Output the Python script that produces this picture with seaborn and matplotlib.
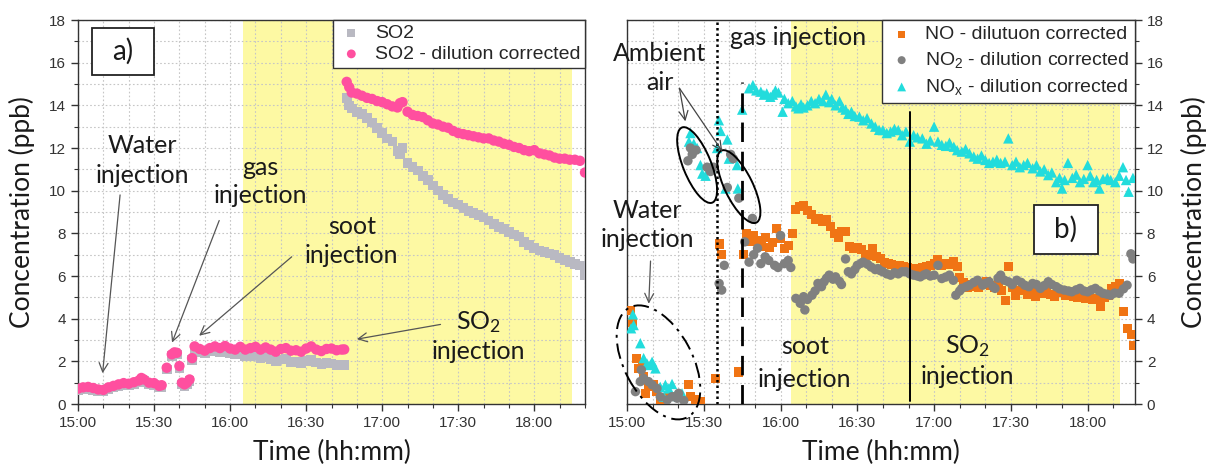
import matplotlib
matplotlib.use("Agg")
import matplotlib.pyplot as plt
import matplotlib.ticker as mticker
import matplotlib.transforms as mtransforms
from matplotlib.patches import Ellipse, Rectangle
import pandas as pd
import seaborn as sns

# ---------------------------------------------------------------- data
# time axis: minutes after 15:00
x_tick_minutes = [0, 30, 60, 90, 120, 150, 180]
x_tick_labels = ["15:00", "15:30", "16:00", "16:30", "17:00", "17:30", "18:00"]

# panel a) SO2 (ppb)
so2_minutes = [0, 2, 4, 6, 8, 10, 12, 14, 16, 18, 20, 22, 24, 25, 26, 28, 30, 32, 33, 35,
               37, 38, 39, 40, 41, 42, 43, 44, 45, 46, 48, 50, 52, 54, 56, 58, 60, 62, 64, 66,
               68, 70, 72, 74, 76, 78, 80, 82, 84, 86, 88, 90, 92, 94, 96, 98, 100, 102, 104, 105,
               106, 107, 108, 110, 112, 114, 116, 118, 120, 122, 124, 126, 127, 128,
               130, 132, 134, 136, 138, 140, 142, 144, 146, 148, 150, 152, 154, 156, 158, 160,
               162, 164, 166, 168, 170, 172, 174, 176, 178, 180, 182, 184, 186, 188, 190, 192,
               194, 196, 198, 200]
so2_raw = [0.64, 0.70, 0.72, 0.67, 0.60, 0.58, 0.70, 0.77, 0.84, 0.90, 0.87, 0.94, 1.02, 1.14, 1.07, 0.92, 0.90, 0.77, 0.80, 1.62,
           2.25, 2.34, 2.32, 1.70, 0.92, 0.84, 0.92, 1.07, 2.05, 2.58, 2.45, 2.40, 2.48, 2.52, 2.45, 2.50, 2.40, 2.32, 2.38, 2.25,
           2.25, 2.28, 2.15, 2.20, 2.10, 2.00, 2.08, 2.10, 1.98, 1.98, 1.92, 2.02, 2.08, 1.95, 1.88, 1.92, 1.90, 1.82, 1.85, 1.84,
           14.35, 14.00, 13.85, 13.70, 13.60, 13.40, 13.20, 12.95, 12.70, 12.45, 12.30, 11.85, 11.70, 12.00,
           11.30, 11.10, 10.95, 10.70, 10.50, 10.25, 10.00, 9.80, 9.60, 9.45, 9.35, 9.20, 9.05, 8.95, 8.85, 8.75,
           8.60, 8.45, 8.30, 8.20, 8.05, 7.95, 7.85, 7.60, 7.45, 7.30, 7.20, 7.12, 7.05, 6.98, 6.85, 6.75,
           6.65, 6.55, 6.50, 6.05]
so2_corrected = [0.72, 0.78, 0.80, 0.75, 0.68, 0.66, 0.78, 0.85, 0.92, 0.98, 0.95, 1.02, 1.10, 1.22, 1.15, 1.00, 0.98, 0.85, 0.88, 1.70,
                 2.33, 2.42, 2.40, 1.78, 1.00, 0.92, 1.00, 1.15, 2.15, 2.70, 2.58, 2.50, 2.62, 2.70, 2.62, 2.72, 2.60, 2.55, 2.68, 2.55,
                 2.62, 2.68, 2.55, 2.65, 2.55, 2.45, 2.58, 2.62, 2.50, 2.52, 2.45, 2.60, 2.70, 2.55, 2.48, 2.58, 2.60, 2.52, 2.55, 2.56,
                 15.10, 14.85, 14.60, 14.55, 14.45, 14.35, 14.30, 14.20, 14.15, 14.05, 13.95, 13.90, 14.10, 14.15,
                 13.70, 13.55, 13.50, 13.45, 13.30, 13.15, 13.10, 13.00, 12.95, 12.80, 12.70, 12.65, 12.60, 12.55, 12.50, 12.45,
                 12.45, 12.35, 12.30, 12.20, 12.15, 12.05, 12.00, 11.90, 11.85, 11.90, 11.75, 11.70, 11.65, 11.55, 11.50, 11.50,
                 11.45, 11.45, 11.40, 10.85]

# panel b) nitrogen oxides (ppb)
no_minutes = [1.3, 2.0, 3.9, 4.6, 5.9, 6.5, 7.2, 8.5, 10.4, 11.7, 13.0, 16.3, 19.6, 24.2, 24.8, 26.8, 28.7, 34.6, 36.0, 37.0,
              43.7, 45.4, 46.5, 48.0, 49.5, 51.0, 52.5, 54.0, 55.5, 57.0, 58.5, 60.0, 61.5, 63.0, 64.5, 66.0, 67.5, 69.0, 70.5, 72.0,
              73.5, 75.0, 76.5, 78.0, 79.5, 81.0, 82.5, 84.0, 85.5, 87.0, 88.5, 90.0, 91.5, 93.0, 94.5, 96.0, 97.5, 99.0, 100.5, 102.0,
              103.5, 105.0, 106.5, 108.0, 109.5, 111.0, 112.5, 114.0, 115.5, 117.0, 118.5, 120.0, 121.5, 123.0, 124.5, 126.0, 127.5, 129.0, 130.0, 131.5,
              133.0, 134.5, 136.0, 137.5, 139.0, 140.5, 142.0, 143.5, 145.0, 146.5, 148.0, 149.0, 150.5, 152.0, 153.5, 155.0, 156.5, 158.0, 159.5, 161.0,
              162.5, 164.0, 165.5, 167.0, 168.5, 170.0, 171.5, 173.0, 174.5, 176.0, 177.5, 179.0, 180.5, 182.0, 183.5, 185.0, 186.5, 188.0, 189.5, 191.0,
              192.5, 194.0, 195.5, 197.0, 198.0]
no_values = [4.40, 3.80, 2.15, 1.67, 1.83, 1.28, 0.50, 0.81, 0.90, 0.58, 0.19, 0.34, 0.34, 0.90, 0.34, 0.22, 0.10, 1.20, 7.50, 7.00,
             1.50, 7.00, 8.00, 7.60, 7.90, 7.66, 7.40, 7.80, 7.35, 7.58, 8.24, 7.75, 7.30, 7.45, 8.00, 9.10, 9.25, 9.30, 9.05, 8.90,
             8.65, 8.70, 8.55, 8.65, 8.30, 8.00, 7.80, 8.10, 8.10, 7.40, 7.30, 7.35, 7.25, 7.00, 6.95, 7.30, 6.90, 6.80, 6.65, 6.60,
             6.55, 6.50, 6.50, 6.45, 6.40, 6.35, 6.35, 6.30, 6.40, 6.45, 6.50, 6.60, 6.75, 6.50, 6.60, 6.55, 6.70, 6.45, 5.95, 5.70,
             5.45, 5.60, 5.50, 5.45, 5.60, 5.75, 5.55, 5.45, 5.60, 5.30, 4.85, 6.45, 5.45, 5.10, 5.30, 5.35, 5.15, 5.30, 5.05, 5.35,
             5.20, 5.30, 5.15, 5.05, 5.25, 5.30, 5.10, 5.20, 5.05, 5.00, 5.10, 4.95, 5.00, 4.90, 4.95, 4.55, 5.00, 5.10, 5.40, 5.50,
             5.65, 4.35, 3.55, 3.25, 2.75]

no2_minutes = [3.3, 5.2, 5.6, 6.5, 8.4, 9.8, 11.7, 13.0, 15.7, 17.6, 19.6, 20.2, 22.2, 23.8, 24.8, 25.5, 27.0, 31.3, 32.6, 33.8,
               36.0, 37.0, 38.0, 39.2, 40.5, 41.5, 43.7, 46.0, 47.7, 49.0, 49.5, 51.0, 52.3, 54.0, 55.4, 57.7, 59.0, 60.0, 61.5, 63.0,
               64.0, 66.0, 67.7, 69.0, 69.5, 70.5, 72.3, 73.5, 74.6, 76.0, 77.0, 78.0, 79.0, 80.5, 81.5, 83.0, 83.8, 85.4, 86.5, 87.7,
               89.0, 90.0, 91.5, 92.3, 94.0, 95.4, 97.0, 98.0, 99.0, 100.0, 101.5, 103.0, 104.5, 106.0, 107.5, 109.0, 110.5, 112.0, 113.5, 114.6,
               116.0, 117.0, 118.5, 120.0, 121.5, 123.0, 124.5, 126.0, 127.5, 128.5, 130.0, 130.8, 132.5, 133.8, 135.5, 137.0, 139.0, 140.0, 141.5, 143.0,
               143.8, 145.0, 146.0, 147.5, 149.0, 150.5, 152.3, 154.0, 155.4, 157.0, 158.5, 160.0, 161.5, 163.0, 164.6, 166.0, 167.7, 169.0, 170.8, 172.5,
               173.8, 175.5, 177.0, 178.5, 180.0, 181.5, 183.0, 184.5, 186.0, 187.5, 189.0, 190.5, 192.3, 194.0, 195.4, 196.9, 197.7]
no2_values = [0.58, 1.05, 1.60, 1.20, 1.05, 0.90, 0.73, 0.34, 0.19, 0.34, 0.27, 0.50, 0.16, 11.40, 12.00, 11.70, 11.90, 11.10, 10.90, 11.10,
              5.65, 5.34, 6.50, 10.15, 11.70, 11.50, 9.65, 7.60, 6.65, 8.70, 7.00, 7.30, 6.58, 6.90, 6.73, 6.50, 6.40, 7.90, 6.58, 6.73,
              6.40, 4.95, 4.72, 5.03, 4.41, 4.90, 5.10, 5.30, 5.65, 5.50, 5.73, 5.90, 6.04, 5.85, 5.96, 5.75, 5.60, 6.80, 6.20, 6.10,
              6.30, 6.50, 6.60, 6.65, 6.55, 6.42, 6.30, 6.35, 6.25, 6.20, 6.10, 6.04, 6.15, 6.10, 6.20, 6.20, 6.10, 6.04, 6.00, 5.96,
              6.05, 6.10, 6.00, 6.04, 6.50, 5.88, 5.95, 6.04, 5.80, 5.10, 5.30, 5.42, 5.50, 5.57, 5.70, 5.80, 5.57, 5.65, 5.73, 5.50,
              5.42, 5.90, 6.04, 5.80, 5.73, 5.60, 5.80, 5.70, 5.57, 5.50, 5.65, 5.60, 5.42, 5.55, 5.73, 5.60, 5.50, 5.40, 5.34, 5.30,
              5.26, 5.35, 5.42, 5.30, 5.26, 5.35, 5.42, 5.30, 5.19, 5.15, 5.10, 5.20, 5.19, 5.40, 5.57, 7.04, 6.80]

nox_minutes = [1.6, 2.3, 2.6, 5.2, 6.5, 7.8, 9.1, 9.8, 11.1, 13.0, 14.4, 15.0, 16.3, 17.6, 18.9, 20.2, 21.5, 24.2, 24.8, 26.1,
               27.4, 28.7, 29.4, 30.7, 32.6, 35.2, 35.9, 36.6, 38.5, 39.2, 39.8, 43.0, 43.3, 45.0, 47.7, 49.2, 50.5, 52.3, 53.5, 54.6,
               56.0, 57.0, 58.0, 59.2, 60.8, 61.5, 63.0, 64.6, 66.0, 67.0, 68.0, 69.0, 70.5, 72.0, 73.5, 75.0, 76.5, 77.7, 79.0, 80.0,
               81.5, 83.0, 84.2, 85.4, 86.5, 87.7, 89.0, 90.8, 92.3, 93.8, 95.5, 97.0, 98.5, 100.0, 101.5, 103.0, 104.5, 106.0, 107.5, 109.0,
               110.5, 112.0, 113.5, 115.4, 117.0, 118.5, 120.0, 121.5, 123.0, 124.6, 126.0, 127.7, 129.0, 130.8, 132.3, 133.8, 135.5, 137.0, 138.5, 140.0,
               141.5, 143.0, 144.5, 146.0, 147.7, 149.0, 150.5, 152.0, 153.5, 155.0, 156.5, 158.5, 160.0, 161.5, 163.0, 164.6, 166.0, 167.7, 169.0, 170.0,
               171.0, 172.3, 174.0, 175.5, 177.0, 178.5, 180.0, 181.0, 182.3, 183.5, 184.6, 186.0, 187.7, 189.0, 190.8, 192.3, 193.8, 195.0, 196.0, 197.7]
nox_values = [3.55, 4.20, 3.70, 2.85, 2.15, 1.90, 1.83, 1.98, 1.67, 0.80, 0.34, 0.90, 0.73, 0.94, 0.42, 0.34, 0.50, 12.30, 12.70, 12.20,
              12.00, 11.20, 10.80, 10.70, 11.10, 12.00, 13.30, 12.80, 10.10, 12.40, 11.50, 11.20, 10.10, 13.80, 14.80, 14.95, 14.70, 14.64, 14.50, 14.56,
              14.40, 14.50, 14.70, 14.60, 13.70, 14.30, 14.10, 14.20, 13.95, 13.86, 14.05, 13.90, 14.00, 14.20, 14.10, 14.30, 14.20, 14.50, 14.15, 14.30,
              14.00, 14.20, 13.90, 13.80, 13.60, 13.70, 13.50, 13.47, 13.30, 13.40, 13.15, 13.00, 12.85, 12.84, 12.70, 12.77, 12.90, 12.84, 12.60, 12.77,
              12.30, 12.60, 12.50, 12.45, 12.20, 12.35, 13.00, 12.30, 12.15, 12.10, 12.25, 12.06, 11.90, 11.83, 11.95, 11.75, 11.60, 11.50, 11.65, 11.44,
              11.30, 11.36, 11.45, 11.30, 11.36, 12.45, 11.20, 11.36, 11.10, 11.20, 11.30, 11.05, 11.20, 10.90, 11.00, 10.73, 10.85, 10.40, 10.60, 10.10,
              10.50, 11.30, 10.60, 10.75, 10.40, 10.55, 11.20, 10.70, 10.40, 10.50, 10.10, 10.55, 10.60, 10.50, 10.40, 10.70, 11.10, 10.50, 9.95, 10.60]

# ---------------------------------------------------------------- style
sns.set_theme(style="ticks")
plt.rcParams["font.family"] = ["Liberation Sans", "DejaVu Sans"]
plt.rcParams["mathtext.default"] = "regular"
NOTE_FONT = ["Lato", "DejaVu Sans"]
INK = "#1a1a1a"
SHADE = "#fdf9a3"
GRID = "#c6c6c6"

fig = plt.figure(figsize=(12.12, 4.70), dpi=100)
axL = fig.add_axes([78 / 1212, 66 / 470, 507 / 1212, 384 / 470])
axR = fig.add_axes([627 / 1212, 66 / 470, 508 / 1212, 384 / 470])


def style_axes(ax, xmax):
    ax.set_xlim(0, xmax)
    ax.set_ylim(0, 18)
    ax.xaxis.set_major_locator(mticker.FixedLocator(x_tick_minutes))
    ax.xaxis.set_major_formatter(mticker.FixedFormatter(x_tick_labels))
    ax.xaxis.set_minor_locator(mticker.MultipleLocator(10))
    ax.yaxis.set_major_locator(mticker.MultipleLocator(2))
    ax.yaxis.set_minor_locator(mticker.MultipleLocator(1))
    ax.set_axisbelow(True)
    ax.grid(which="both", color=GRID, linestyle=(0, (1.5, 2.0)), linewidth=0.8)
    for sp in ax.spines.values():
        sp.set_color("#333333")
        sp.set_linewidth(1.0)
    ax.tick_params(which="both", direction="out", colors="#333333", labelsize=11,
                   labelcolor="#333333")
    ax.tick_params(which="major", length=5, width=1.0)
    ax.tick_params(which="minor", length=3, width=0.8)
    ax.set_xlabel("Time (hh:mm)", fontsize=19, family=NOTE_FONT, color=INK, labelpad=7)
    ax.set_ylabel("Concentration (ppb)", fontsize=19, family=NOTE_FONT, color=INK, labelpad=10)


def note(ax, x, y, s, size=18, **kw):
    ax.text(x, y, s, fontsize=size, family=NOTE_FONT, color=INK, ha="center", va="center",
            zorder=6, **kw)


def pointer(ax, start, head, color="#555555"):
    ax.annotate("", xy=head, xytext=start,
                arrowprops=dict(arrowstyle="->", color=color, lw=0.9, mutation_scale=16,
                                shrinkA=0, shrinkB=0), zorder=6)


def ring(ax, x, y, w_px, h_px, angle, **kw):
    trans = fig.dpi_scale_trans + mtransforms.ScaledTranslation(x, y, ax.transData)
    ax.add_patch(Ellipse((0, 0), w_px / fig.dpi, h_px / fig.dpi, angle=angle,
                         transform=trans, fill=False, clip_on=False, zorder=6, **kw))


def label_box(ax, x0, x1, y0, y1, s):
    ax.add_patch(Rectangle((x0, y0), x1 - x0, y1 - y0, facecolor="white",
                           edgecolor="#222222", linewidth=1.3, zorder=6))
    ax.text((x0 + x1) / 2, (y0 + y1) / 2, s, fontsize=20, family=NOTE_FONT, color=INK,
            ha="center", va="center", zorder=7)


# ---------------------------------------------------------------- panel a
df_so2 = pd.DataFrame({"minute": so2_minutes, "raw": so2_raw, "corrected": so2_corrected})
axL.axvspan(65, 195, color=SHADE, zorder=0, lw=0)
sns.scatterplot(data=df_so2, x="minute", y="raw", marker="s", color="#b9b9c2", s=48,
                edgecolor="none", ax=axL, label="SO2", zorder=3)
sns.scatterplot(data=df_so2, x="minute", y="corrected", marker="o", color="#ff4f9f", s=56,
                edgecolor="none", ax=axL, label="SO2 - dilution corrected", zorder=4)
style_axes(axL, 200)

legL = axL.legend(loc="upper right", borderaxespad=0, frameon=True, fancybox=False,
                  edgecolor="#333333", framealpha=1, prop={"size": 14},
                  handletextpad=0.5, labelspacing=0.15, borderpad=0.25, handlelength=1.4,
                  markerscale=0.85)
legL.get_frame().set_linewidth(1.0)
legL.set_zorder(8)

label_box(axL, 5.6, 29.8, 15.43, 17.64, "a)")
note(axL, 25.5, 11.42, "Water\ninjection", linespacing=1.35)
pointer(axL, (16.6, 9.8), (9.7, 1.44))
note(axL, 72, 10.43, "gas\ninjection", linespacing=1.3)
pointer(axL, (55.7, 8.6), (37.1, 2.88))
note(axL, 108, 7.65, "soot\ninjection", linespacing=1.3)
pointer(axL, (84.3, 6.9), (47.8, 3.2))
note(axL, 158, 3.84, "SO$_2$")
note(axL, 158, 2.48, "injection")
pointer(axL, (143, 3.73), (110, 3.04))

# ---------------------------------------------------------------- panel b
df_no = pd.DataFrame({"minute": no_minutes, "ppb": no_values})
df_no2 = pd.DataFrame({"minute": no2_minutes, "ppb": no2_values})
df_nox = pd.DataFrame({"minute": nox_minutes, "ppb": nox_values})

axR.axvspan(64, 192.5, color=SHADE, zorder=0, lw=0)
sns.scatterplot(data=df_no, x="minute", y="ppb", marker="s", color="#f07414", s=42,
                edgecolor="none", ax=axR, label="NO - dilutuon corrected", zorder=3)
sns.scatterplot(data=df_nox, x="minute", y="ppb", marker="^", color="#22dcdc", s=56,
                edgecolor="none", ax=axR, label="NO$_x$ - dilution corrected", zorder=3.5)
sns.scatterplot(data=df_no2, x="minute", y="ppb", marker="o", color="#808080", s=46,
                edgecolor="none", ax=axR, label="NO$_2$ - dilution corrected", zorder=4)
style_axes(axR, 198.5)
axR.yaxis.tick_right()
axR.yaxis.set_label_position("right")
axR.set_ylabel("Concentration (ppb)", fontsize=19, family=NOTE_FONT, color=INK, labelpad=12)

handles, labels = axR.get_legend_handles_labels()
order = [0, 2, 1]
legR = axR.legend([handles[i] for i in order], [labels[i] for i in order], loc="upper right",
                  borderaxespad=0, frameon=True, fancybox=False, edgecolor="#333333",
                  framealpha=1, prop={"size": 14}, handletextpad=0.5, labelspacing=0.35,
                  borderpad=0.3, handlelength=1.4, markerscale=0.85)
legR.get_frame().set_linewidth(1.0)
legR.set_zorder(8)

# event markers
axR.axvline(35.0, color="black", lw=1.8, ls=(0, (1.0, 1.2)), zorder=5)
axR.plot([44.8, 44.8], [0, 15.1], color="black", lw=2.0, ls=(0, (7, 3.5)), zorder=5)
axR.plot([110.5, 110.5], [0.15, 13.7], color="black", lw=1.4, zorder=5)

ring(axR, 27.4, 11.2, 81, 28, -68, edgecolor="black", lw=1.4)
ring(axR, 43.7, 10.19, 80, 28, -64, edgecolor="black", lw=1.4)
ring(axR, 12.3, 1.95, 124, 68, -62, edgecolor="black", lw=1.4, ls=(0, (8, 3, 1.5, 3)))

label_box(axR, 159, 184, 7.05, 9.35, "b)")
note(axR, 67, 17.2, "gas injection")
note(axR, 12.8, 15.75, "Ambient\nair", linespacing=1.28)
pointer(axR, (20.5, 14.8), (22.8, 13.25), color="#444444")
pointer(axR, (20.5, 14.8), (37.2, 11.85), color="#444444")
note(axR, 8.0, 8.4, "Water\ninjection", linespacing=1.3)
pointer(axR, (9.2, 6.7), (8.5, 4.7))
note(axR, 69.5, 2.7, "soot")
note(axR, 69.5, 1.16, "injection")
note(axR, 133, 2.7, "SO$_2$")
note(axR, 133, 1.3, "injection")

for ax, xmax in ((axL, 200), (axR, 198.5)):
    ax.set_xlim(0, xmax)
    ax.set_ylim(0, 18)

fig.savefig("out.png", dpi=100)
